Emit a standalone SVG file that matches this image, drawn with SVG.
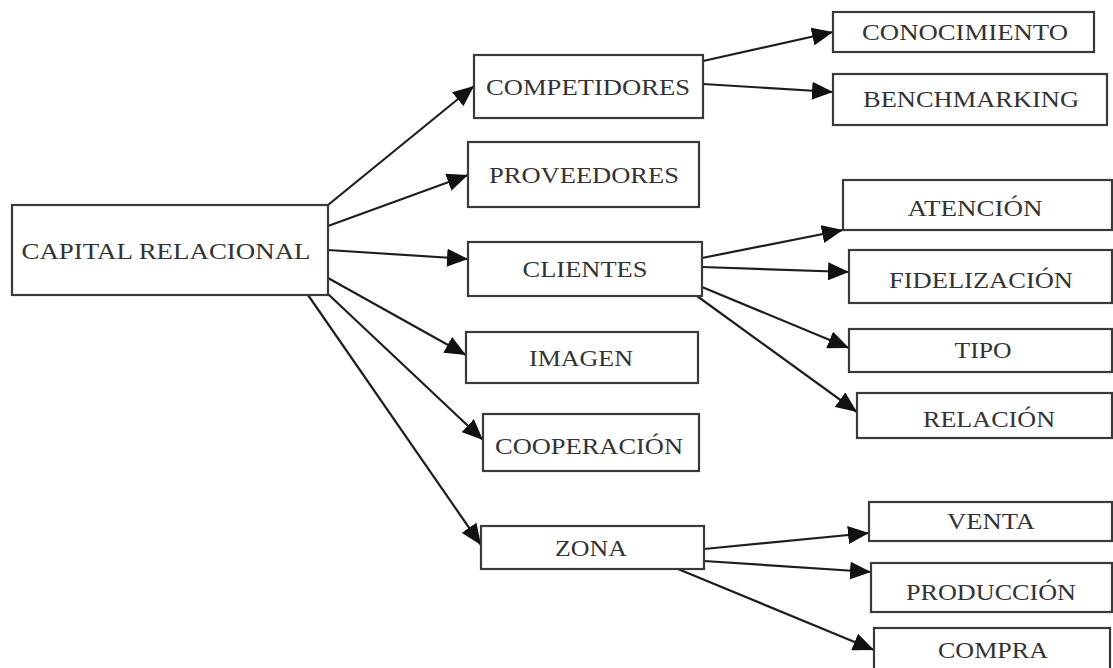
<svg xmlns="http://www.w3.org/2000/svg" width="1113" height="668" viewBox="0 0 1113 668">
<defs>
<style>
.box{fill:#fff;stroke:#3a3a3a;stroke-width:2.2}
.lbl{font-family:"Liberation Serif","Times New Roman",serif;font-size:24px;fill:#333;text-anchor:middle}
.con line{stroke:#1e1e1e;stroke-width:2.2;marker-end:url(#ah)}
</style>
<marker id="ah" markerUnits="userSpaceOnUse" markerWidth="22" markerHeight="18" refX="21" refY="9" orient="auto">
<path d="M0,0 L21,9 L0,18 Z" fill="#111"/>
</marker>
</defs>
<rect width="1113" height="668" fill="#fff"/>
<g id="connectors" class="con">
<line x1="328" y1="205" x2="474" y2="86"/>
<line x1="328" y1="226" x2="468" y2="175"/>
<line x1="328" y1="250" x2="468" y2="259"/>
<line x1="328" y1="278" x2="466" y2="355"/>
<line x1="328" y1="294" x2="483" y2="440"/>
<line x1="308" y1="295" x2="481" y2="545"/>
<line x1="703" y1="61" x2="833" y2="32"/>
<line x1="703" y1="84" x2="833" y2="92"/>
<line x1="702" y1="258" x2="843" y2="230"/>
<line x1="702" y1="267" x2="849" y2="272"/>
<line x1="702" y1="287" x2="849" y2="348"/>
<line x1="697" y1="296" x2="857" y2="412"/>
<line x1="704" y1="549" x2="869" y2="533"/>
<line x1="704" y1="561" x2="871" y2="572"/>
<line x1="678" y1="569" x2="874" y2="650"/>
</g>
<g id="capital"><rect class="box" x="12" y="205" width="316" height="90"/><text class="lbl" x="166" y="259" textLength="289" lengthAdjust="spacingAndGlyphs">CAPITAL RELACIONAL</text></g>
<g id="competidores"><rect class="box" x="474" y="55" width="229" height="63"/><text class="lbl" x="588" y="95" textLength="204" lengthAdjust="spacingAndGlyphs">COMPETIDORES</text></g>
<g id="proveedores"><rect class="box" x="468" y="142" width="231" height="65"/><text class="lbl" x="584" y="183" textLength="190" lengthAdjust="spacingAndGlyphs">PROVEEDORES</text></g>
<g id="clientes"><rect class="box" x="468" y="242" width="234" height="54"/><text class="lbl" x="585" y="277" textLength="125" lengthAdjust="spacingAndGlyphs">CLIENTES</text></g>
<g id="imagen"><rect class="box" x="466" y="332" width="232" height="51"/><text class="lbl" x="581" y="366" textLength="104" lengthAdjust="spacingAndGlyphs">IMAGEN</text></g>
<g id="cooperacion"><rect class="box" x="483" y="414" width="216" height="57"/><text class="lbl" x="589" y="454" textLength="188" lengthAdjust="spacingAndGlyphs">COOPERACIÓN</text></g>
<g id="zona"><rect class="box" x="481" y="526" width="223" height="43"/><text class="lbl" x="591" y="556" textLength="72" lengthAdjust="spacingAndGlyphs">ZONA</text></g>
<g id="conocimiento"><rect class="box" x="833" y="12" width="261" height="40"/><text class="lbl" x="965" y="40" textLength="206" lengthAdjust="spacingAndGlyphs">CONOCIMIENTO</text></g>
<g id="benchmarking"><rect class="box" x="833" y="74" width="274" height="51"/><text class="lbl" x="971" y="107" textLength="216" lengthAdjust="spacingAndGlyphs">BENCHMARKING</text></g>
<g id="atencion"><rect class="box" x="843" y="180" width="269" height="50"/><text class="lbl" x="975" y="216" textLength="135" lengthAdjust="spacingAndGlyphs">ATENCIÓN</text></g>
<g id="fidelizacion"><rect class="box" x="849" y="250" width="263" height="53"/><text class="lbl" x="981" y="288" textLength="184" lengthAdjust="spacingAndGlyphs">FIDELIZACIÓN</text></g>
<g id="tipo"><rect class="box" x="849" y="329" width="263" height="43"/><text class="lbl" x="983" y="358" textLength="57" lengthAdjust="spacingAndGlyphs">TIPO</text></g>
<g id="relacion"><rect class="box" x="857" y="393" width="255" height="45"/><text class="lbl" x="989" y="427" textLength="132" lengthAdjust="spacingAndGlyphs">RELACIÓN</text></g>
<g id="venta"><rect class="box" x="869" y="502" width="243" height="39"/><text class="lbl" x="991" y="529" textLength="88" lengthAdjust="spacingAndGlyphs">VENTA</text></g>
<g id="produccion"><rect class="box" x="871" y="563" width="241" height="49"/><text class="lbl" x="991" y="600" textLength="170" lengthAdjust="spacingAndGlyphs">PRODUCCIÓN</text></g>
<g id="compra"><rect class="box" x="874" y="628" width="236" height="46"/><text class="lbl" x="993" y="658" textLength="110" lengthAdjust="spacingAndGlyphs">COMPRA</text></g>
</svg>
